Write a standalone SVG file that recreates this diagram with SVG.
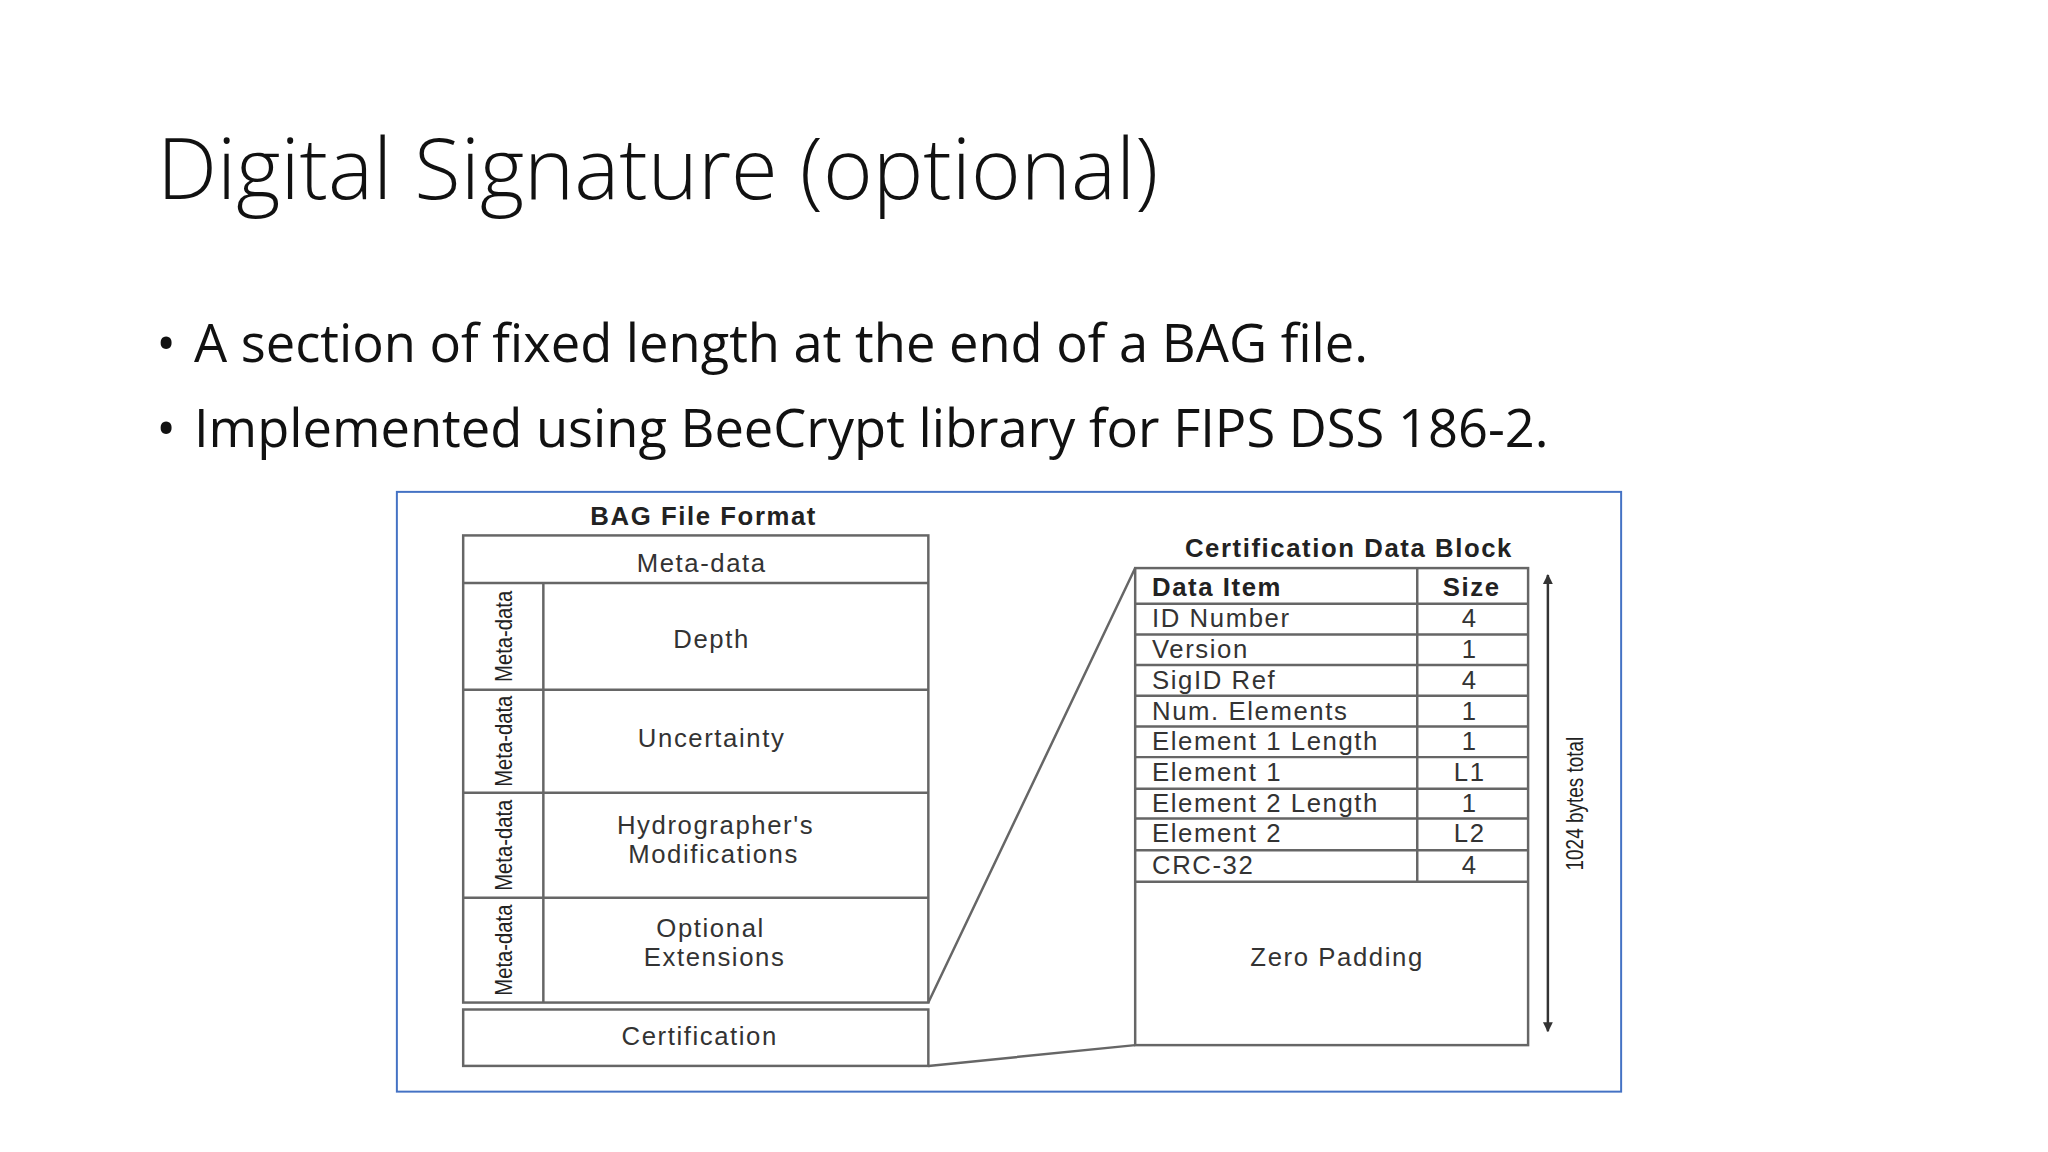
<svg xmlns="http://www.w3.org/2000/svg" width="2048" height="1152" viewBox="0 0 2048 1152">
<defs>
<style>
.t{font-family:"Liberation Sans",Arial,sans-serif;fill:#333;font-size:26px;letter-spacing:1.6px}
.b{font-weight:bold;fill:#222}
.c{text-anchor:middle}
.ln{stroke:#666;stroke-width:2.5;fill:none}
.v{font-family:"Liberation Sans",sans-serif;fill:#222;font-size:25px;text-anchor:middle}
.h{font-family:"Open Sans","Noto Sans",sans-serif;fill:#111}
</style>
<marker id="ar" viewBox="0 0 10 10" refX="9" refY="5" markerWidth="4" markerHeight="5" orient="auto-start-reverse"><path d="M0,0L10,5L0,10z" fill="#333"/></marker>
</defs>
<rect width="2048" height="1152" fill="#fff"/>
<text class="h" x="157" y="199" font-size="85" font-weight="300">Digital Signature (optional)</text>
<g transform="scale(0.9897)">
<text class="h" x="158" y="366" font-size="53">•</text>
<text class="h" x="196" y="366" font-size="53">A section of fixed length at the end of a BAG file.</text>
<text class="h" x="158" y="452" font-size="53">•</text>
<text class="h" x="196" y="452" font-size="53">Implemented using BeeCrypt library for FIPS DSS 186-2.</text>
<rect x="401" y="497" width="1237" height="606" fill="#fff" stroke="#4472C4" stroke-width="2"/>
<g id="bag">
<text class="t b c" x="711" y="530">BAG File Format</text>
<rect class="ln" x="468" y="541" width="470" height="472"/>
<path class="ln" d="M468 589H938M549 589V1013M468 697H938M468 801H938M468 907H938"/>
<text class="t c" x="709" y="578">Meta-data</text>
<text class="t c" x="719" y="655">Depth</text>
<text class="t c" x="719" y="755">Uncertainty</text>
<text class="t c" x="723" y="843">Hydrographer's</text>
<text class="t c" x="721" y="872">Modifications</text>
<text class="t c" x="718" y="947">Optional</text>
<text class="t c" x="722" y="976">Extensions</text>
<text class="v" transform="translate(517 643) rotate(-90)" textLength="92" lengthAdjust="spacingAndGlyphs">Meta-data</text>
<text class="v" transform="translate(517 749) rotate(-90)" textLength="92" lengthAdjust="spacingAndGlyphs">Meta-data</text>
<text class="v" transform="translate(517 854) rotate(-90)" textLength="92" lengthAdjust="spacingAndGlyphs">Meta-data</text>
<text class="v" transform="translate(517 960) rotate(-90)" textLength="92" lengthAdjust="spacingAndGlyphs">Meta-data</text>
</g>
<g id="cert">
<rect class="ln" x="468" y="1020" width="470" height="57"/>
<text class="t c" x="707" y="1056">Certification</text>
</g>
<g id="connectors">
<path class="ln" d="M938 1013L1147 574M938 1077L1147 1056" stroke-width="2"/>
<path d="M1564 581V1042" stroke="#333" stroke-width="2.5" marker-start="url(#ar)" marker-end="url(#ar)"/>
</g>
<g id="cdb">
<text class="t b c" x="1363" y="563">Certification Data Block</text>
<rect class="ln" x="1147" y="574" width="397" height="482"/>
<path class="ln" d="M1432 574V891M1147 610H1544M1147 641H1544M1147 672H1544M1147 703H1544M1147 734H1544M1147 765H1544M1147 797H1544M1147 827H1544M1147 859H1544M1147 891H1544"/>
<text class="t b" x="1164" y="602">Data Item</text><text class="t b c" x="1487" y="602">Size</text>
<text class="t" x="1164" y="634">ID Number</text><text class="t c" x="1485" y="634">4</text>
<text class="t" x="1164" y="665">Version</text><text class="t c" x="1485" y="665">1</text>
<text class="t" x="1164" y="696">SigID Ref</text><text class="t c" x="1485" y="696">4</text>
<text class="t" x="1164" y="727">Num. Elements</text><text class="t c" x="1485" y="727">1</text>
<text class="t" x="1164" y="758">Element 1 Length</text><text class="t c" x="1485" y="758">1</text>
<text class="t" x="1164" y="789">Element 1</text><text class="t c" x="1485" y="789">L1</text>
<text class="t" x="1164" y="820">Element 2 Length</text><text class="t c" x="1485" y="820">1</text>
<text class="t" x="1164" y="851">Element 2</text><text class="t c" x="1485" y="851">L2</text>
<text class="t" x="1164" y="883">CRC-32</text><text class="t c" x="1485" y="883">4</text>
<text class="t c" x="1351" y="976">Zero Padding</text>
<text class="v" transform="translate(1599 812) rotate(-90)" textLength="135" lengthAdjust="spacingAndGlyphs">1024 bytes total</text>
</g>
</g>
</svg>
